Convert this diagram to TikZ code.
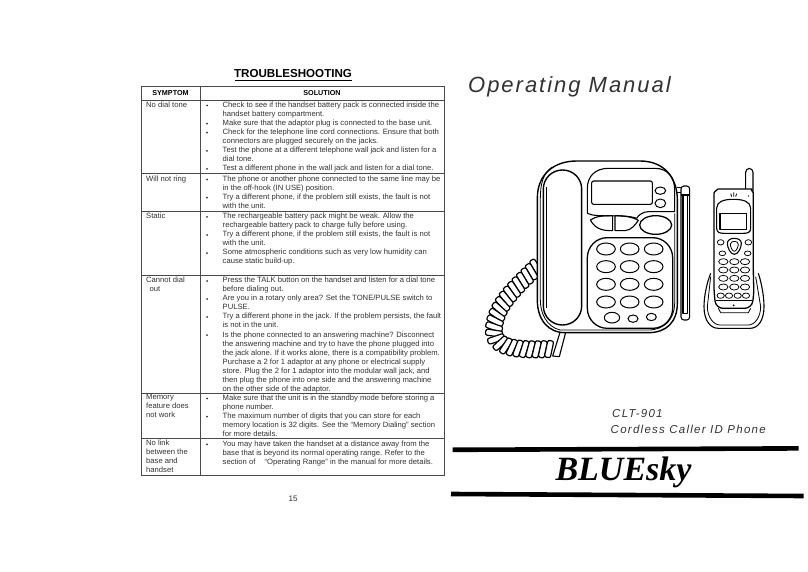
\documentclass[tikz,border=0pt]{standalone}
\usepackage{fontspec}
\setmainfont{Liberation Sans}
\newfontfamily\spacedfont[LetterSpace=9]{Liberation Sans}
\newfontfamily\spacedsmall[LetterSpace=11]{Liberation Sans}
\newfontfamily\serifbrand{Liberation Serif}
\usetikzlibrary{decorations.markings}
\definecolor{ink}{HTML}{333333}
\definecolor{rule}{HTML}{4A4A4A}
\tikzset{
  rowtext/.style={anchor=north west,inner sep=0pt,align=left,text=ink,font=\fontsize{7.65}{9.05}\selectfont},
  headtext/.style={inner sep=0pt,text=black,font=\fontsize{7.2}{9}\selectfont\bfseries},
  tablerule/.style={draw=rule,line width=1pt},
  art/.style={draw=black,line width=1.1pt,line join=round},
  key/.style={draw=black,line width=1pt},
  small key/.style={draw=black,line width=.75pt},
  thin art/.style={draw=black,line width=.8pt,line join=round},
  brandbar/.style={draw=black,line width=4.6pt}
}
\begin{document}
\begin{tikzpicture}[x=1pt,y=-1pt]
\useasboundingbox (0,0) rectangle (808,572);
\fill[white] (0,0) rectangle (808,572);

% ---------- left page ----------
\node[inner sep=0pt,text=black,font=\fontsize{11.6}{14}\selectfont\bfseries] (title) at (293,74) {TROUBLESHOOTING};
\draw[black,line width=.9pt] (235,80.6) -- (351.5,80.6);

\draw[tablerule] (141,87) rectangle (444,475);
\draw[tablerule] (200,87) -- (200,475);
\foreach \y in {100.7,174,211,275.7,393,438} \draw[tablerule] (141,\y) -- (444,\y);

\node[headtext] (hsym) at (170.5,93.5) {SYMPTOM};
\node[headtext] (hsol) at (322,93.5) {SOLUTION};

\node[rowtext] (s1) at (146,101.4) {No dial tone};
\node[rowtext] (s2) at (146,175.4) {Will not ring};
\node[rowtext] (s3) at (146,212.4) {Static};
\node[rowtext] (s4) at (146,276.6) {Cannot dial\\\hspace*{3.5pt}out};
\node[rowtext] (s5) at (146,394) {Memory\\feature does\\not work};
\node[rowtext] (s6) at (146,439.6) {No link\\between the\\base and\\handset};

\node[rowtext] (t1) at (222.5,101.6) {Check to see if the handset battery pack is connected inside the\\handset battery compartment.\\Make sure that the adaptor plug is connected to the base unit.\\Check for the telephone line cord connections. Ensure that both\\connectors are plugged securely on the jacks.\\Test the phone at a different telephone wall jack and listen for a\\dial tone.\\Test a different phone in the wall jack and listen for a dial tone.};
\node[rowtext] (t2) at (222.5,175.6) {The phone or another phone connected to the same line may be\\in the off-hook (IN USE) position.\\Try a different phone, if the problem still exists, the fault is not\\with the unit.};
\node[rowtext] (t3) at (222.5,213) {The rechargeable battery pack might be weak. Allow the\\rechargeable battery pack to charge fully before using.\\Try a different phone, if the problem still exists, the fault is not\\with the unit.\\Some atmospheric conditions such as very low humidity can\\cause static build-up.};
\node[rowtext] (t4) at (222.5,277) {Press the TALK button on the handset and listen for a dial tone\\before dialing out.\\Are you in a rotary only area? Set the TONE/PULSE switch to\\PULSE.\\Try a different phone in the jack. If the problem persists, the fault\\is not in the unit.\\Is the phone connected to an answering machine? Disconnect\\the answering machine and try to have the phone plugged into\\the jack alone. If it works alone, there is a compatibility problem.\\Purchase a 2 for 1 adaptor at any phone or electrical supply\\store. Plug the 2 for 1 adaptor into the modular wall jack, and\\then plug the phone into one side and the answering machine\\on the other side of the adaptor.};
\node[rowtext] (t5) at (222.5,394.6) {Make sure that the unit is in the standby mode before storing a\\phone number.\\The maximum number of digits that you can store for each\\memory location is 32 digits. See the “Memory Dialing” section\\for more details.};
\node[rowtext] (t6) at (222.5,440.3) {You may have taken the handset at a distance away from the\\base that is beyond its normal operating range. Refer to the\\section of \hspace{7pt}“Operating Range” in the manual for more details.};

\foreach \y in {105.5,123.6,132.7,150.8,168.9,179.5,197.6,216.9,235,253.1,281,299,317,335.2,398.5,416.6,444.3}
  \fill[ink] (207,\y) circle (1);

\node[inner sep=0pt,text=ink,font=\fontsize{8}{9}\selectfont] (pageno) at (293,499) {15};

% ---------- right page text ----------
\node[anchor=base west,inner sep=0pt,text=ink,font=\fontsize{22}{26}\spacedfont\itshape] (manual) at (468,93) {Operating Manual};
\node[anchor=base west,inner sep=0pt,text=ink,font=\fontsize{11.5}{12}\spacedsmall\itshape] (model) at (612,417) {CLT-901};
\node[anchor=base west,inner sep=0pt,text=ink,font=\fontsize{11.5}{12}\spacedsmall\itshape] (desc) at (610.5,433) {Cordless Caller ID Phone};
\draw[brandbar] (452.5,449.8) -- (798.5,448.4);
\draw[brandbar] (451,494) -- (803.5,496);
\node[anchor=base,inner sep=0pt,text=black,font=\fontsize{34}{38}\serifbrand\bfseries\itshape] (brand) at (623.5,480) {BLUEsky};

% ---------- desk phone ----------
\begin{scope}[xshift=480pt,yshift=-150pt,x=.33333pt,y=-.33333pt]
  % antenna
  \draw[art] (590,113) -- (604,113) (590,127) -- (604,127);
  \draw[art,fill=white,rounded corners=3pt] (603,108) rectangle (629,510);
  \draw[art] (609,135) -- (609,490) -- (622,490) -- (622,135);
  \draw[art] (603,135) -- (629,135);
  % cord
  \draw[art,fill=white] (218,618) -- (246,528) -- (262,528) -- (238,620) -- cycle;
  \path[postaction={decorate},decoration={markings,
      mark=between positions 0 and 1 step 6.2pt with {
        \draw[art,line width=1.2pt,fill=white,rounded corners=2pt,rotate=-14] (-3pt,-8.5pt) rectangle (3pt,8.5pt);}}]
    (168,352) .. controls (110,410) and (38,470) .. (42,548) .. controls (46,600) and (130,600) .. (212,597);
  % body
  \draw[art,line width=1.4pt,fill=white] (172,145) .. controls (172,70) and (225,33) .. (290,33) -- (480,33)
     .. controls (550,33) and (592,80) .. (592,150) -- (592,460) .. controls (592,515) and (560,548) .. (505,548)
     -- (255,548) .. controls (205,548) and (172,510) .. (172,450) -- cycle;
  \draw[thin art] (181,145) .. controls (181,100) and (190,70) .. (215,52);
  \draw[thin art] (181,145) -- (181,450) .. controls (181,490) and (200,530) .. (240,540) -- (505,540)
     .. controls (555,540) and (584,505) .. (584,460) -- (584,190);
  % handset
  \draw[art,line width=1.4pt,fill=white,rounded corners=19pt] (190,60) rectangle (305,525);
  \draw[thin art] (198,110) -- (198,475);
  % display panel
  \draw[art] (322,190) -- (322,115) .. controls (322,80) and (345,55) .. (385,55) -- (525,55)
     .. controls (565,55) and (584,85) .. (584,120) -- (584,185) -- (505,185) .. controls (490,185) and (475,195) .. (470,205);
  \draw[art,rounded corners=2pt] (335,93) rectangle (517,163);
  \draw[key] (541,122) ellipse (16 and 11);
  \draw[key] (541,160) ellipse (16 and 13);
  \draw[art,line width=1.3pt] (527,225) ellipse (48 and 28);
  \draw[art] (322,190) .. controls (350,205) and (430,190) .. (470,205);
  \draw[art] (331,210) .. controls (350,197) and (375,197) .. (398,197) -- (398,242) .. controls (365,243) and (345,235) .. (331,210) -- cycle;
  \draw[art] (405,197) .. controls (430,197) and (455,200) .. (475,211) .. controls (465,225) and (455,240) .. (435,242) -- (405,242) -- cycle;
  % keypad
  \draw[art,line width=1.3pt,rounded corners=20pt] (322,263) rectangle (578,535);
  \foreach \y in {297,350,403,456} \foreach \x in {378,449,521}
    \draw[key] (\x,\y) ellipse (28 and 18);
  \draw[key] (396,503) ellipse (23 and 16);
  \draw[key] (459,506) ellipse (15 and 11);
  \draw[key] (514,501) ellipse (15 and 11);
\end{scope}

% ---------- cordless handset ----------
\begin{scope}[xshift=690pt,yshift=-160pt,x=.33333pt,y=-.33333pt]
  % cradle
  \draw[art,fill=white] (62,340) .. controls (50,370) and (42,410) .. (42,440) .. controls (42,480) and (60,505) .. (85,505) -- (180,505)
     .. controls (205,505) and (222,480) .. (222,440) .. controls (222,410) and (215,370) .. (205,340);
  \draw[thin art] (62,350) -- (52,440) .. controls (52,470) and (70,495) .. (90,495) -- (175,495) .. controls (195,495) and (212,470) .. (212,440) -- (197,350);
  % antenna
  \draw[art,fill=white,rounded corners=4pt] (167,95) -- (167,25) -- (189,25) -- (189,95);
  % body
  \draw[art,line width=1.3pt,fill=white,rounded corners=7pt] (72,120) .. controls (72,95) and (85,87) .. (105,87) -- (165,87) .. controls (180,87) and (190,97) .. (190,120) -- (190,350) -- (192,400) -- (185,445) -- (78,445) -- (72,400) -- cycle;
  \draw[thin art] (78,420) -- (186,420);
  \draw[thin art] (85,445) -- (92,458) -- (175,458) -- (182,445);
  \fill (131,436) circle (3);
  % antenna marks
  \draw[thin art] (122,101) -- (125,110) (131,97) -- (131,110) (140,101) -- (137,110);
  \fill (176,108) circle (2.2);
  % screen surround
  \draw[art] (80,145) .. controls (80,125) and (100,118) .. (130,118) .. controls (160,118) and (182,125) .. (182,145) -- (182,205) .. controls (182,218) and (172,220) .. (160,220) -- (102,220) .. controls (90,220) and (80,218) .. (80,205) -- cycle;
  \draw[art] (90,160) rectangle (170,208);
  % navigation
  \draw[art] (112,250) .. controls (112,240) and (122,235) .. (133,235) .. controls (144,235) and (154,240) .. (154,250) .. controls (154,262) and (145,283) .. (133,283) .. controls (121,283) and (112,262) .. (112,250) -- cycle;
  \draw[thin art] (121,253) .. controls (121,247) and (127,244) .. (133,244) .. controls (139,244) and (145,247) .. (145,253) .. controls (145,260) and (139,274) .. (133,274) .. controls (127,274) and (121,260) .. (121,253) -- cycle;
  \draw[small key] (92,247) ellipse (10 and 8);
  \draw[small key] (175,247) ellipse (10 and 8);
  \draw[small key] (97,280) ellipse (10 and 7);
  \draw[small key] (173,280) ellipse (10 and 7);
  \foreach \y in {305,330,355,381} \foreach \x in {100,133,165}
    \draw[small key] (\x,\y) ellipse (14 and 9);
  \foreach \x in {92,117,143,168}
    \draw[small key] (\x,407) ellipse (11 and 8);
\end{scope}
\end{tikzpicture}
\end{document}
